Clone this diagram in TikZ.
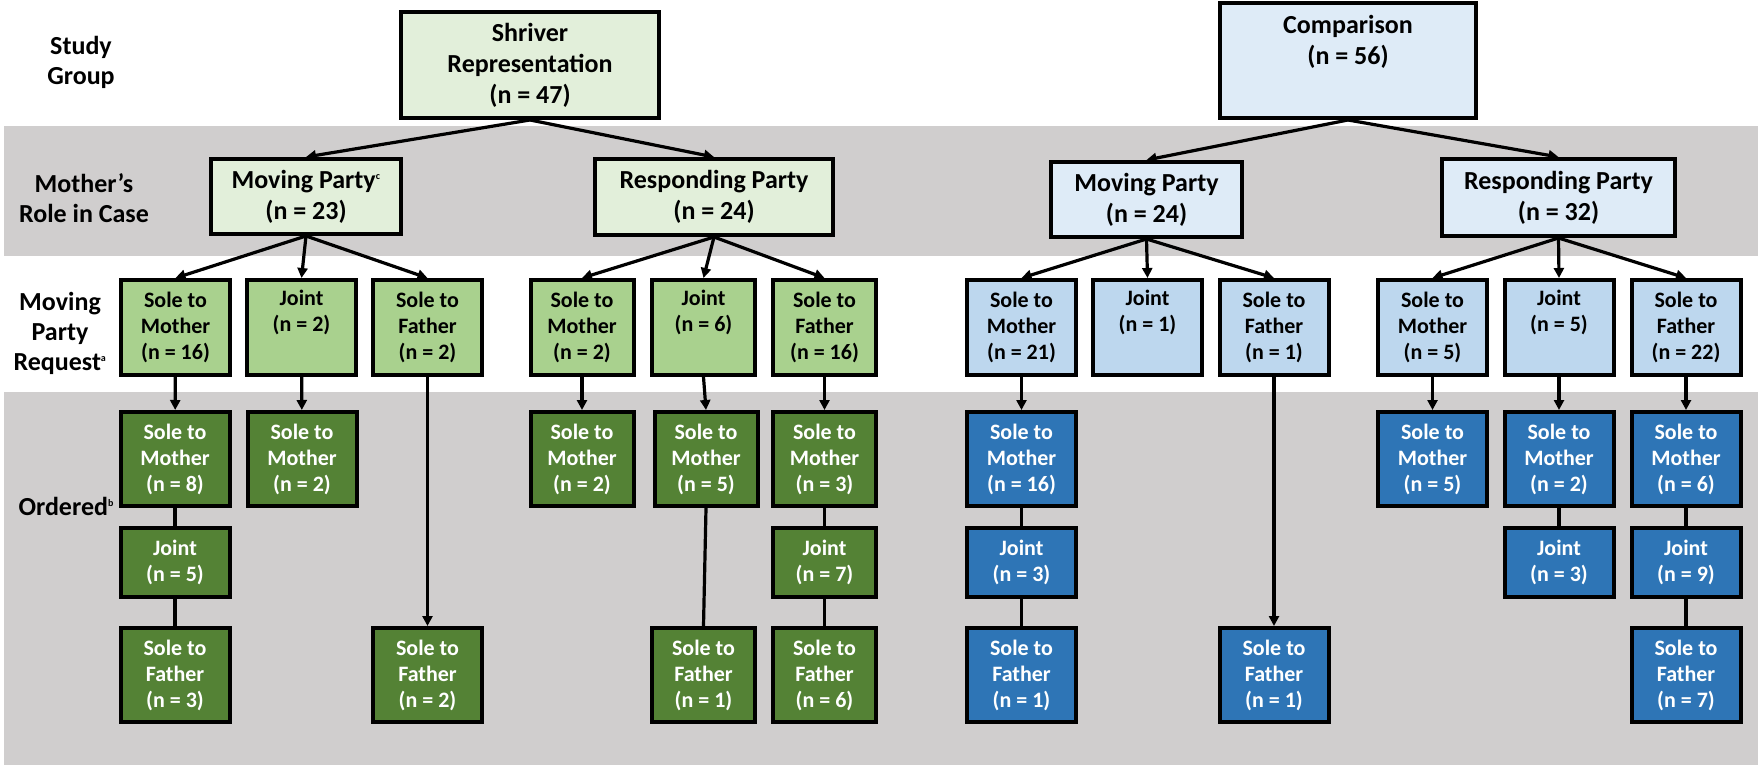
\documentclass[tikz,border=0pt]{standalone}
\usepackage{xcolor}
\usepackage{fontspec}
\setmainfont{Carlito}
\usetikzlibrary{arrows.meta}

\definecolor{paleGreen}{HTML}{E2EFDA}
\definecolor{midGreen}{HTML}{A9D18E}
\definecolor{darkGreen}{HTML}{548235}
\definecolor{paleBlue}{HTML}{DEEBF7}
\definecolor{midBlue}{HTML}{BDD7EE}
\definecolor{darkBlue}{HTML}{2E75B6}
\definecolor{bandGray}{HTML}{D0CECE}

\newcommand{\notemark}[1]{\textsuperscript{\fontsize{10}{10}\selectfont #1}}

\begin{document}
\begin{tikzpicture}[
            x=1pt, y=-1pt,
            boxbase/.style={
                draw=black,
                line width=4pt,
                inner sep=0pt,
                align=center
            },
            groupbox/.style={
                boxbase,
                font=\fontsize{26}{31}\selectfont\bfseries
            },
            reqbox/.style={
                boxbase,
                minimum width=109pt,
                minimum height=95pt,
                font=\fontsize{22}{26}\selectfont\bfseries
            },
            ordbox/.style={
                reqbox,
                text=white,
                minimum height=94pt
            },
            jointbox/.style={
                ordbox,
                minimum height=69pt
            },
            rowlabel/.style={
                align=center,
                font=\fontsize{26}{30}\selectfont\bfseries
            },
            link/.style={
                line width=3.2pt,
                -{Triangle[length=10pt,width=10pt]}
            },
            tie/.style={
                line width=3.2pt
            }
        ]
            \fill[white] (0,0) rectangle (1758,765);
            \useasboundingbox (0,0) rectangle (1758,765);
            \fill[bandGray] (4,126) rectangle (1758,256);
            \fill[bandGray] (4,392) rectangle (1758,765);

            \node[rowlabel] (lblstudy) at (81,62) {Study\\Group};
            \node[rowlabel] (lblrole) at (84,198) {Mother’s\\Role in Case};
            \node[rowlabel] (lblrequest) at (60,333) {Moving\\Party\\Request\notemark{a}};
            \node[rowlabel, anchor=west] (lblordered) at (15,506) {Ordered\notemark{b}};

            \node[groupbox, fill=paleGreen, minimum width=258pt, minimum height=106pt] (shriver) at (530,65) {Shriver\\Representation\\(n = 47)};
            \node[groupbox, fill=paleBlue, minimum width=256pt, minimum height=115pt] (comparison) at (1348,60.5) {Comparison\\(n = 56)\\\strut};

            \node[groupbox, fill=paleGreen, minimum width=190pt, minimum height=75pt] (smove) at (306,196.5) {Moving Party\notemark{c}\\(n = 23)};
            \node[groupbox, fill=paleGreen, minimum width=238pt, minimum height=76pt] (sresp) at (714,197) {Responding Party\\(n = 24)};
            \node[groupbox, fill=paleBlue, minimum width=191pt, minimum height=75pt] (cmove) at (1146.5,199.5) {Moving Party\\(n = 24)};
            \node[groupbox, fill=paleBlue, minimum width=233pt, minimum height=77pt] (cresp) at (1558.5,197.5) {Responding Party\\(n = 32)};

            \node[reqbox, fill=midGreen] (smM) at (175.5,327.5) {Sole to\\Mother\\(n = 16)};
            \node[reqbox, fill=midGreen] (smJ) at (301.5,327.5) {Joint\\(n = 2)\\\strut};
            \node[reqbox, fill=midGreen] (smF) at (427.5,327.5) {Sole to\\Father\\(n = 2)};
            \node[reqbox, fill=midGreen, minimum width=103pt] (srM) at (582,327.5) {Sole to\\Mother\\(n = 2)};
            \node[reqbox, fill=midGreen, minimum width=103pt] (srJ) at (703.5,327.5) {Joint\\(n = 6)\\\strut};
            \node[reqbox, fill=midGreen, minimum width=103pt] (srF) at (824.5,327.5) {Sole to\\Father\\(n = 16)};
            \node[reqbox, fill=midBlue] (cmM) at (1021.5,327.5) {Sole to\\Mother\\(n = 21)};
            \node[reqbox, fill=midBlue] (cmJ) at (1147.5,327.5) {Joint\\(n = 1)\\\strut};
            \node[reqbox, fill=midBlue] (cmF) at (1274,327.5) {Sole to\\Father\\(n = 1)};
            \node[reqbox, fill=midBlue] (crM) at (1432.5,327.5) {Sole to\\Mother\\(n = 5)};
            \node[reqbox, fill=midBlue] (crJ) at (1559,327.5) {Joint\\(n = 5)\\\strut};
            \node[reqbox, fill=midBlue] (crF) at (1686,327.5) {Sole to\\Father\\(n = 22)};

            \node[ordbox, fill=darkGreen] (smM-mo) at (175,459) {Sole to\\Mother\\(n = 8)};
            \node[jointbox, fill=darkGreen] (smM-jt) at (175,562.5) {Joint\\(n = 5)};
            \node[ordbox, fill=darkGreen] (smM-fa) at (175,675) {Sole to\\Father\\(n = 3)};
            \node[ordbox, fill=darkGreen] (smJ-mo) at (302,459) {Sole to\\Mother\\(n = 2)};
            \node[ordbox, fill=darkGreen] (smF-fa) at (427.5,675) {Sole to\\Father\\(n = 2)};
            \node[ordbox, fill=darkGreen, minimum width=103pt] (srM-mo) at (582,459) {Sole to\\Mother\\(n = 2)};
            \node[ordbox, fill=darkGreen, minimum width=103pt] (srJ-mo) at (706,459) {Sole to\\Mother\\(n = 5)};
            \node[ordbox, fill=darkGreen, minimum width=103pt] (srJ-fa) at (703.5,675) {Sole to\\Father\\(n = 1)};
            \node[ordbox, fill=darkGreen, minimum width=103pt] (srF-mo) at (824.5,459) {Sole to\\Mother\\(n = 3)};
            \node[jointbox, fill=darkGreen, minimum width=103pt] (srF-jt) at (824.5,562.5) {Joint\\(n = 7)};
            \node[ordbox, fill=darkGreen, minimum width=103pt] (srF-fa) at (824.5,675) {Sole to\\Father\\(n = 6)};
            \node[ordbox, fill=darkBlue] (cmM-mo) at (1021.5,459) {Sole to\\Mother\\(n = 16)};
            \node[jointbox, fill=darkBlue] (cmM-jt) at (1021.5,562.5) {Joint\\(n = 3)};
            \node[ordbox, fill=darkBlue] (cmM-fa) at (1021.5,675) {Sole to\\Father\\(n = 1)};
            \node[ordbox, fill=darkBlue] (cmF-fa) at (1274,675) {Sole to\\Father\\(n = 1)};
            \node[ordbox, fill=darkBlue] (crM-mo) at (1432.5,459) {Sole to\\Mother\\(n = 5)};
            \node[ordbox, fill=darkBlue] (crJ-mo) at (1559,459) {Sole to\\Mother\\(n = 2)};
            \node[jointbox, fill=darkBlue] (crJ-jt) at (1559,562.5) {Joint\\(n = 3)};
            \node[ordbox, fill=darkBlue] (crF-mo) at (1686,459) {Sole to\\Mother\\(n = 6)};
            \node[jointbox, fill=darkBlue] (crF-jt) at (1686,562.5) {Joint\\(n = 9)};
            \node[ordbox, fill=darkBlue] (crF-fa) at (1686,675) {Sole to\\Father\\(n = 7)};

            \draw[link] (shriver.south) -- (smove.north);
            \draw[link] (shriver.south) -- (sresp.north);
            \draw[link] (comparison.south) -- (cmove.north);
            \draw[link] (comparison.south) -- (cresp.north);

            \draw[link] (smove.south) -- (smM.north);
            \draw[link] (smove.south) -- (smJ.north);
            \draw[link] (smove.south) -- (smF.north);
            \draw[link] (sresp.south) -- (srM.north);
            \draw[link] (sresp.south) -- (srJ.north);
            \draw[link] (sresp.south) -- (srF.north);
            \draw[link] (cmove.south) -- (cmM.north);
            \draw[link] (cmove.south) -- (cmJ.north);
            \draw[link] (cmove.south) -- (cmF.north);
            \draw[link] (cresp.south) -- (crM.north);
            \draw[link] (cresp.south) -- (crJ.north);
            \draw[link] (cresp.south) -- (crF.north);

            \draw[link] (smM) -- (smM-mo);
            \draw[tie] (smM-mo) -- (smM-jt);
            \draw[tie] (smM-jt) -- (smM-fa);
            \draw[link] (smJ) -- (smJ-mo);
            \draw[link] (smF) -- (smF-fa);
            \draw[link] (srM) -- (srM-mo);
            \draw[link] (srJ.south) -- (srJ-mo.north);
            \draw[tie] (srJ-mo.south) -- (srJ-fa.north);
            \draw[link] (srF) -- (srF-mo);
            \draw[tie] (srF-mo) -- (srF-jt);
            \draw[tie] (srF-jt) -- (srF-fa);
            \draw[link] (cmM) -- (cmM-mo);
            \draw[tie] (cmM-mo) -- (cmM-jt);
            \draw[tie] (cmM-jt) -- (cmM-fa);
            \draw[link] (cmF) -- (cmF-fa);
            \draw[link] (crM) -- (crM-mo);
            \draw[link] (crJ) -- (crJ-mo);
            \draw[tie] (crJ-mo) -- (crJ-jt);
            \draw[link] (crF) -- (crF-mo);
            \draw[tie] (crF-mo) -- (crF-jt);
            \draw[tie] (crF-jt) -- (crF-fa);
        \end{tikzpicture}
\end{document}
